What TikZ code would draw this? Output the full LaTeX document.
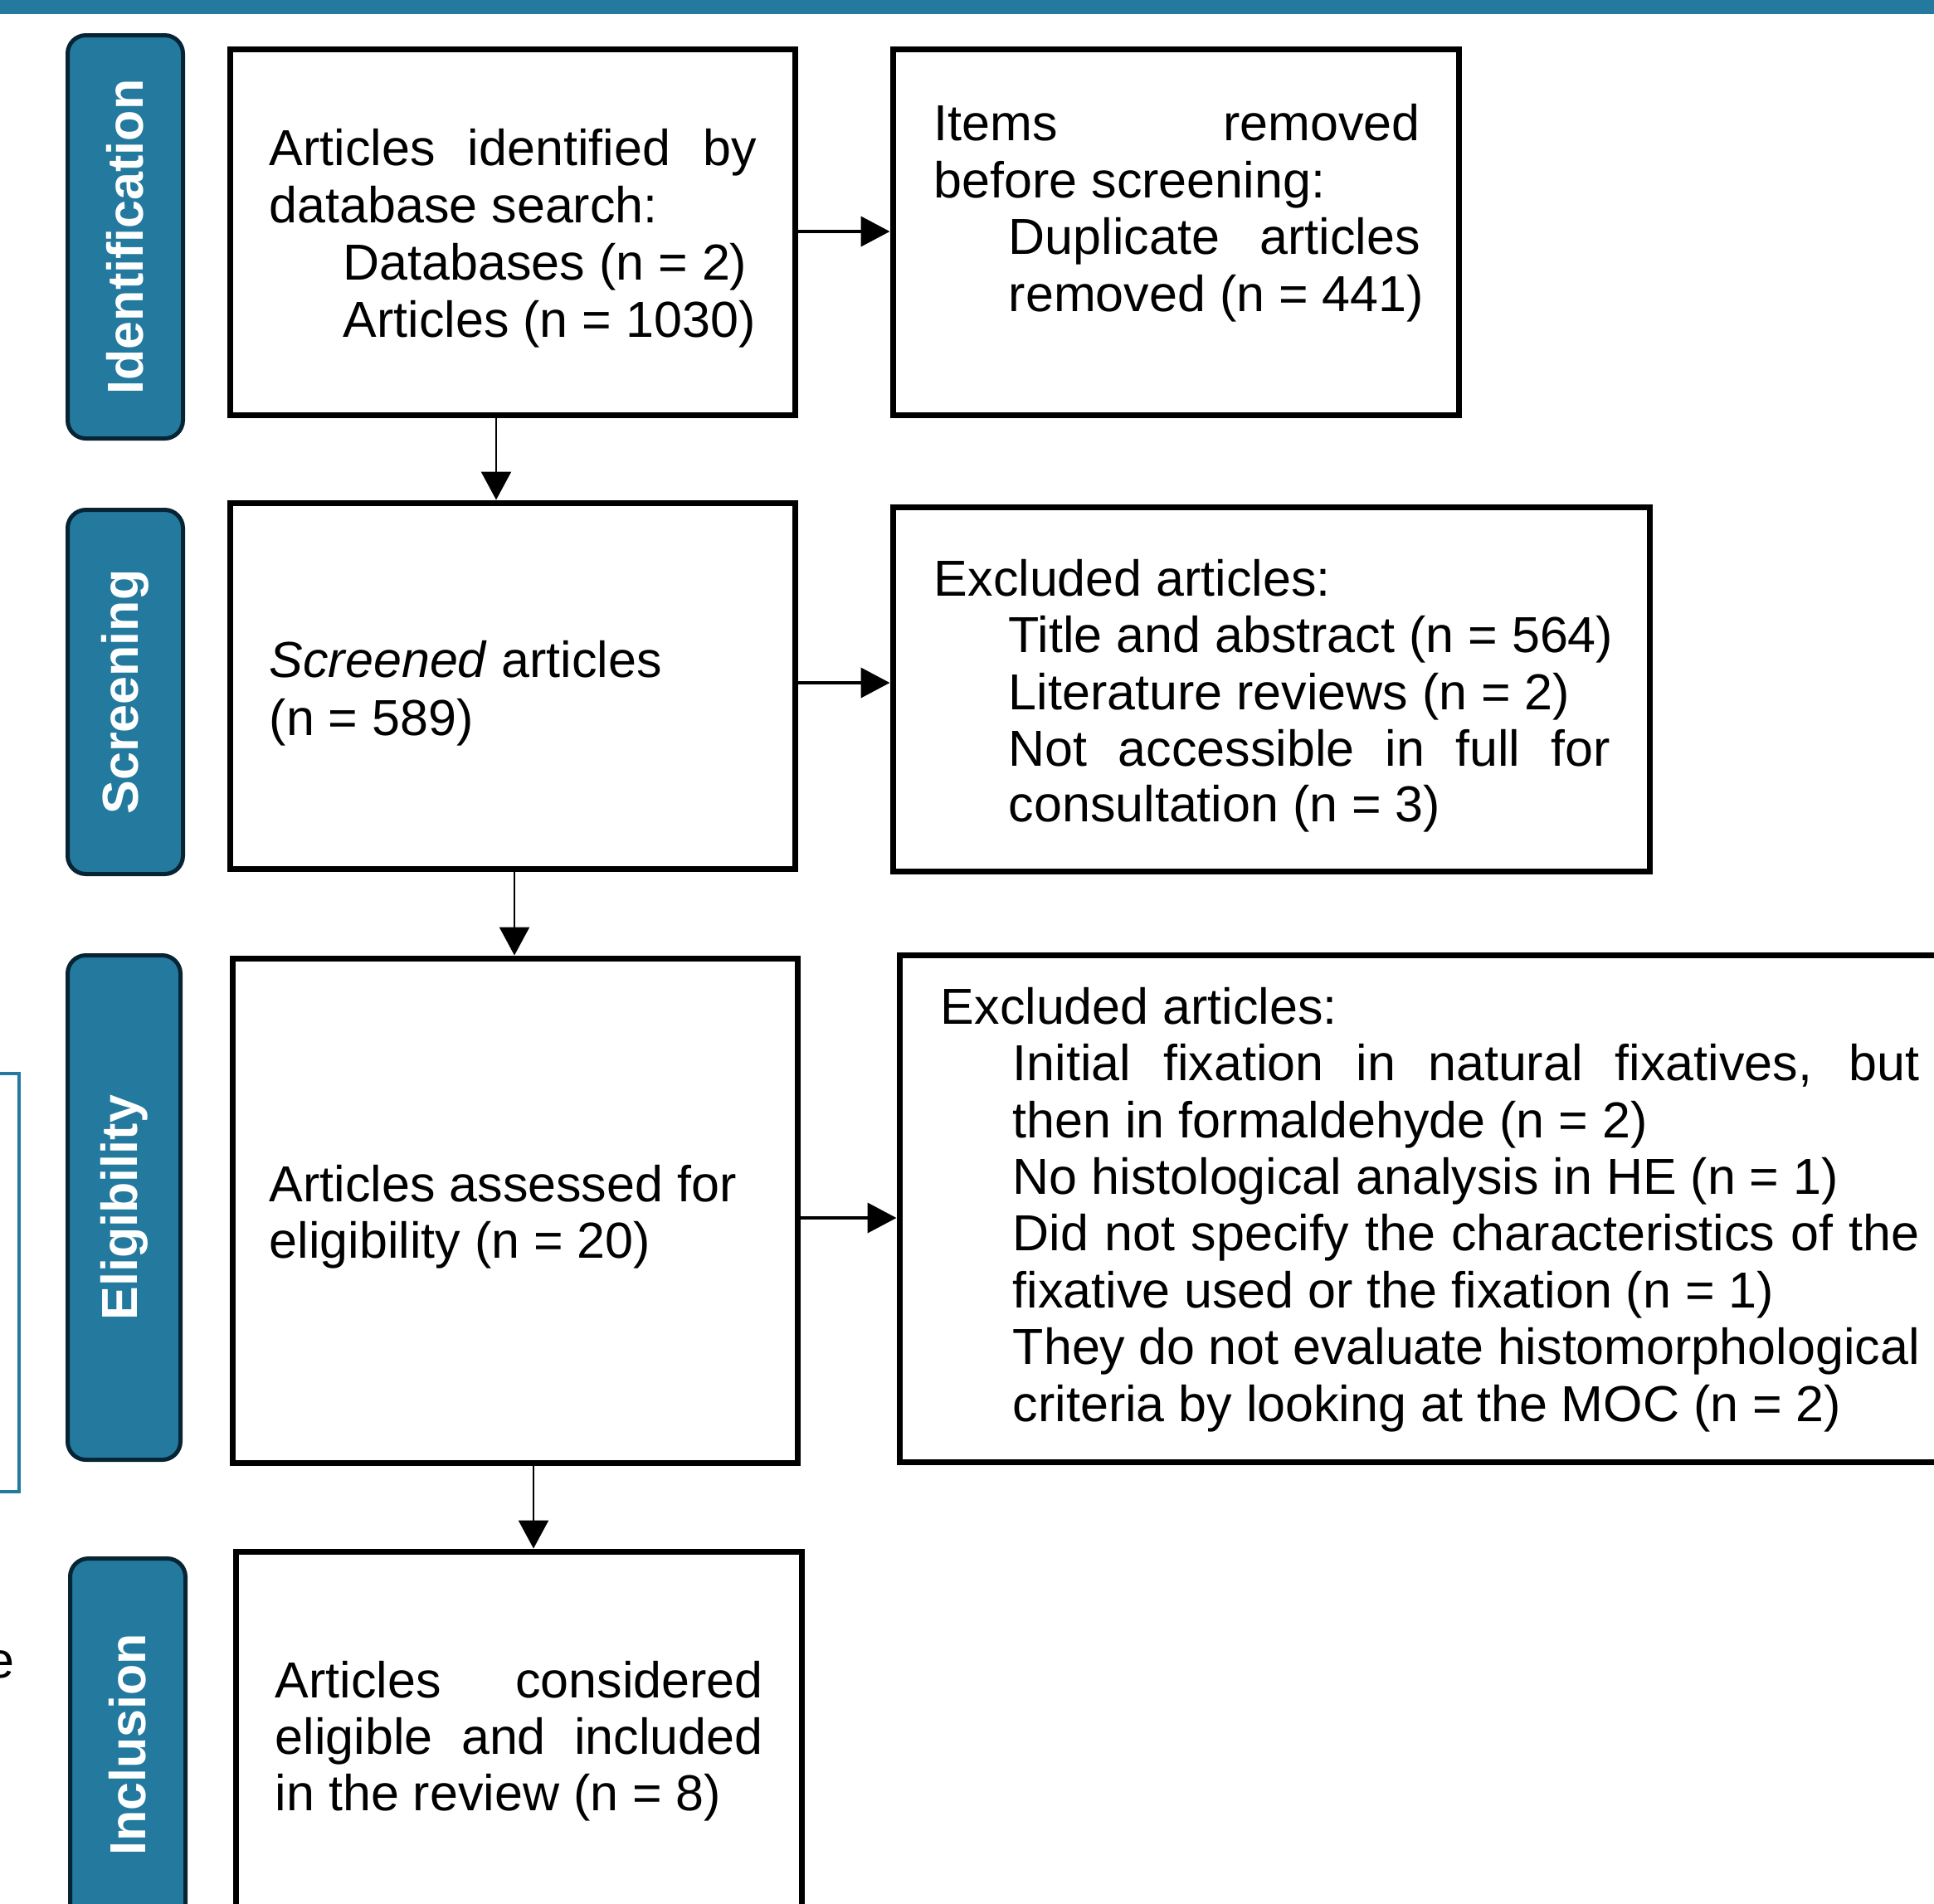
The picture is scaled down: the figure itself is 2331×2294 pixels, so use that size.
\documentclass[tikz,border=0pt]{standalone}
\usepackage{fontspec}
\setmainfont{Liberation Sans}
\usetikzlibrary{arrows.meta}
\definecolor{bandblue}{RGB}{35,122,158}
\definecolor{navyedge}{RGB}{6,36,52}
\begin{document}
\begin{tikzpicture}[x=0.25pt,y=-0.25pt,
  box/.style={draw=black, line width=1.75pt, fill=white, inner sep=0pt},
  phase/.style={draw=navyedge, fill=bandblue, line width=1.25pt, rounded corners=5.5pt,
    rotate=90, text=white, font=\fontsize{15.25pt}{18pt}\selectfont\bfseries, inner sep=0pt},
  txt/.style={anchor=base west, inner sep=0pt, font=\fontsize{15.25pt}{18pt}\selectfont},
  conn/.style={draw=black, line width=1pt, -{Triangle[length=8.75pt,width=9pt]}},
  connv/.style={draw=black, line width=0.6pt, -{Triangle[length=8.5pt,width=9pt]}}]
\useasboundingbox (0,0) rectangle (2331,2294);
\fill[bandblue] (0,0) rectangle (2331,17);
% stray fragments at the left edge
\draw[bandblue, line width=0.8pt] (-40,1294) rectangle (23,1798);
\node[txt, anchor=base east] (frag) at (18,2022) {e};

% phase labels
\node[phase, minimum width=121.5pt, minimum height=34.75pt] (l1) at (151,285.5) {Identification};
\node[phase, minimum width=109.75pt, minimum height=34.75pt] (l2) at (151,834) {Screening};
\node[phase, minimum width=152pt, minimum height=34pt] (l3) at (149.5,1455.5) {Eligibility};
\node[phase, minimum width=112.25pt, minimum height=34.75pt] (l4) at (154,2103) {Inclusion};

% boxes
\node[box, minimum width=170.25pt, minimum height=110.25pt] (b1) at (617.5,279.5) {};
\node[box, minimum width=170.5pt, minimum height=110.25pt] (b2) at (1417,279.5) {};
\node[box, minimum width=170.25pt, minimum height=110.25pt] (b3) at (617.5,826.5) {};
\node[box, minimum width=228pt, minimum height=109.75pt] (b4) at (1532,830.5) {};
\node[box, minimum width=170.25pt, minimum height=152pt] (b5) at (620.5,1459) {};
\node[box, minimum width=315.25pt, minimum height=152.75pt] (b6) at (1714.5,1456.5) {};
\node[box, minimum width=170.5pt, minimum height=112.5pt] (b7) at (625,2095) {};

% box 1
\node[txt] (t1a) at (324,199) {\makebox[146.75pt][s]{Articles identified by}};
\node[txt] (t1b) at (324,268) {database search:};
\node[txt] (t1c) at (413,337) {Databases (n = 2)};
\node[txt] (t1d) at (413,406) {Articles (n = 1030)};
% box 2
\node[txt] (t2a) at (1125,169) {\makebox[146.5pt][s]{Items removed}};
\node[txt] (t2b) at (1125,238) {before screening:};
\node[txt] (t2c) at (1215,306) {\makebox[124pt][s]{Duplicate articles}};
\node[txt] (t2d) at (1215,375) {removed (n = 441)};
% box 3
\node[txt] (t3a) at (324,816) {\textit{Screened} articles};
\node[txt] (t3b) at (324,886) {(n = 589)};
% box 4
\node[txt] (t4a) at (1125,718) {Excluded articles:};
\node[txt] (t4b) at (1215,786) {Title and abstract (n = 564)};
\node[txt] (t4c) at (1215,855) {Literature reviews (n = 2)};
\node[txt] (t4d) at (1215,923) {\makebox[181.25pt][s]{Not accessible in full for}};
\node[txt] (t4e) at (1215,990) {consultation (n = 3)};
% box 5
\node[txt] (t5a) at (324,1448) {Articles assessed for};
\node[txt] (t5b) at (324,1516) {eligibility (n = 20)};
% box 6
\node[txt] (t6a) at (1133,1234) {Excluded articles:};
\node[txt] (t6b) at (1220,1302) {\makebox[273.25pt][s]{Initial fixation in natural fixatives, but}};
\node[txt] (t6c) at (1220,1371) {then in formaldehyde (n = 2)};
\node[txt] (t6d) at (1220,1439) {No histological analysis in HE (n = 1)};
\node[txt] (t6e) at (1220,1507) {\makebox[273.25pt][s]{Did not specify the characteristics of the}};
\node[txt] (t6f) at (1220,1576) {fixative used or the fixation (n = 1)};
\node[txt] (t6g) at (1220,1644) {\makebox[273.25pt][s]{They do not evaluate histomorphological}};
\node[txt] (t6h) at (1220,1713) {criteria by looking at the MOC (n = 2)};
% box 7
\node[txt] (t7a) at (331,2046) {\makebox[147pt][s]{Articles considered}};
\node[txt] (t7b) at (331,2114) {\makebox[147pt][s]{eligible and included}};
\node[txt] (t7c) at (331,2182) {in the review (n = 8)};

% connectors
\draw[conn] (b1.east |- 0,279) -- (b2.west |- 0,279);
\draw[conn] (b3.east |- 0,823) -- (b4.west |- 0,823);
\draw[conn] (b5.east |- 0,1468) -- (b6.west |- 0,1468);
\draw[connv] (b1.south -| 598,0) -- (b3.north -| 598,0);
\draw[connv] (b3.south -| 620,0) -- (b5.north -| 620,0);
\draw[connv] (b5.south -| 643,0) -- (b7.north -| 643,0);
\end{tikzpicture}
\end{document}
